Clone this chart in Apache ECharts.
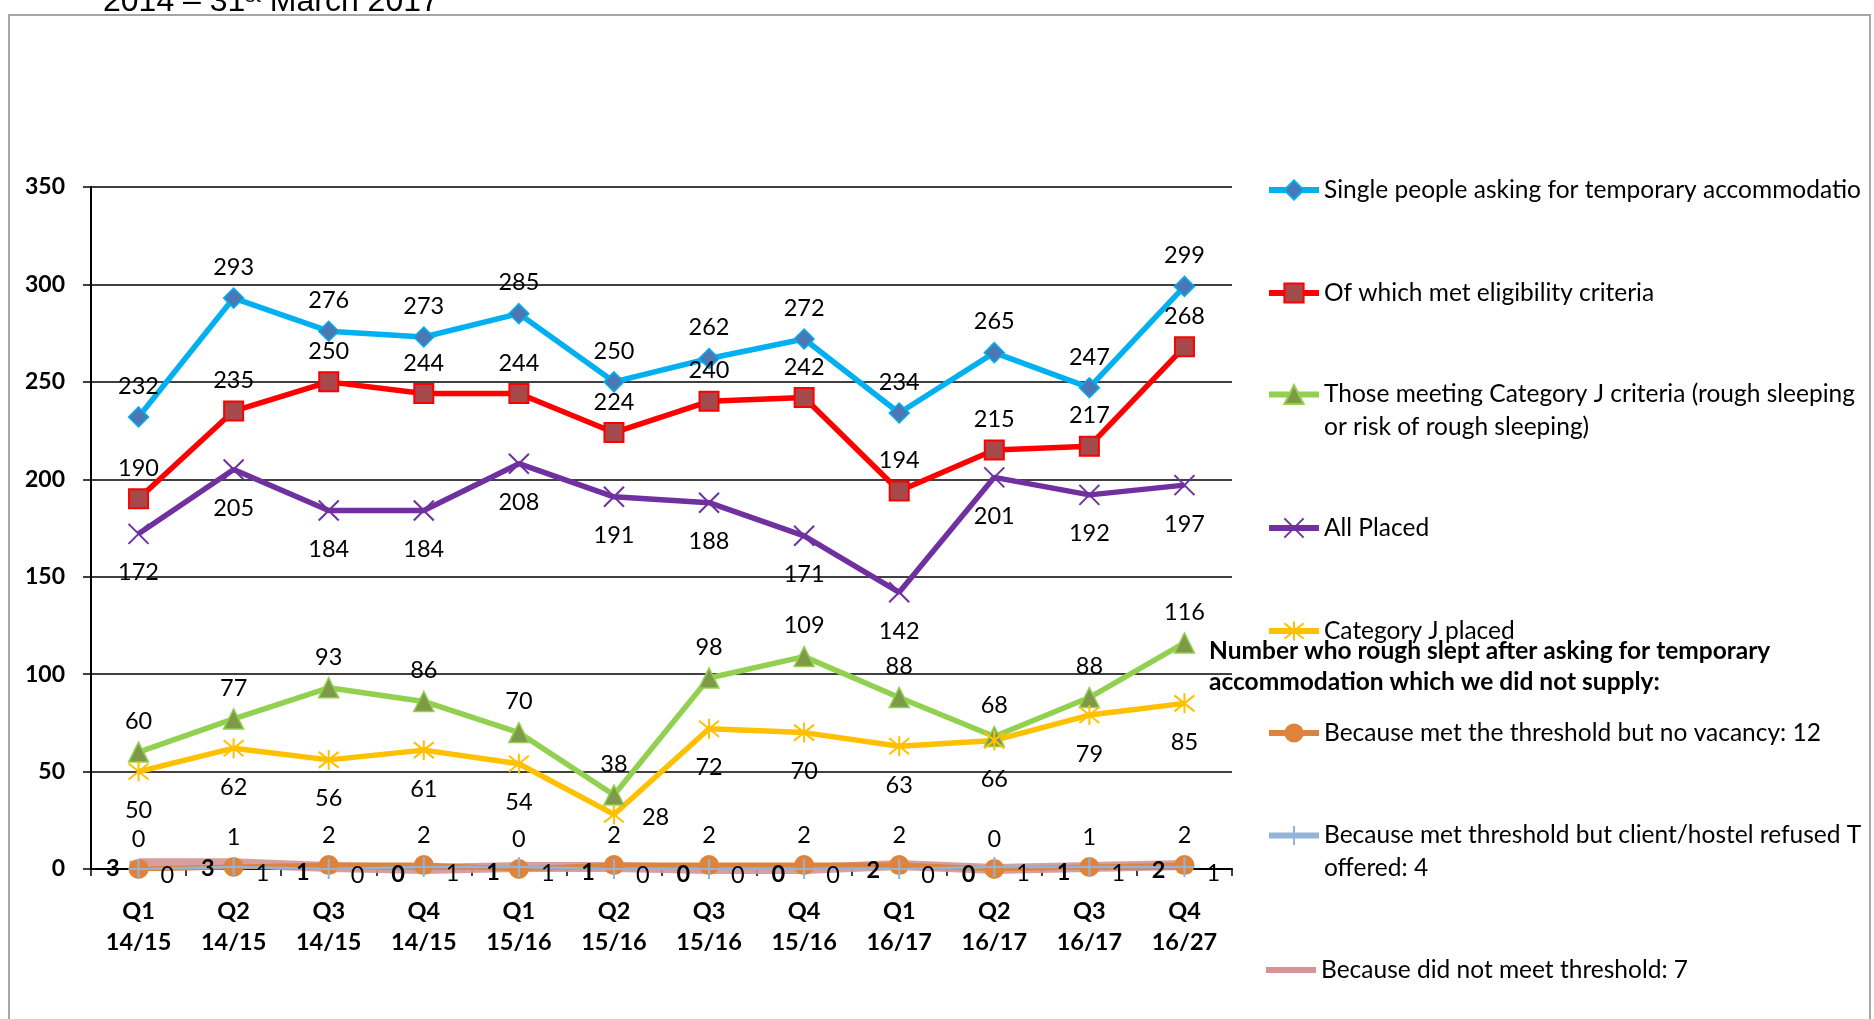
<!DOCTYPE html>
<html><head><meta charset="utf-8">
<script src="https://cdn.jsdelivr.net/npm/echarts@6/dist/echarts.min.js"></script>
<style>html,body{margin:0;padding:0;background:#fff}#c{width:1874px;height:1019px}</style>
</head><body><div id="c"></div>
<script>
const categories = ['Q1\n14/15','Q2\n14/15','Q3\n14/15','Q4\n14/15','Q1\n15/16','Q2\n15/16','Q3\n15/16','Q4\n15/16','Q1\n16/17','Q2\n16/17','Q3\n16/17','Q4\n16/27'];
const singlePeople = [232,293,276,273,285,250,262,272,234,265,247,299];
const metEligibility = [190,235,250,244,244,224,240,242,194,215,217,268];
const categoryJ = [60,77,93,86,70,38,98,109,88,68,88,116];
const allPlaced = [172,205,184,184,208,191,188,171,142,201,192,197];
const categoryJPlaced = [50,62,56,61,54,28,72,70,63,66,79,85];
const noVacancy = [0,1,2,2,0,2,2,2,2,0,1,2];
const clientRefused = [0,1,0,1,1,0,0,0,0,1,1,1];
const notMeetThreshold = [3,3,1,0,1,1,0,0,2,0,1,2];
const yMin = 0, yMax = 350, yStep = 50;

const names = {
  single: 'Single people asking for temporary accommodation',
  met: 'Of which met eligibility criteria',
  catJ: 'Those meeting Category J criteria (rough sleeping\nor risk of rough sleeping)',
  all: 'All Placed',
  catJP: 'Category J placed',
  noVac: 'Because met the threshold but no vacancy: 12',
  refused: 'Because met threshold but client/hostel refused TA\noffered: 4',
  notMeet: 'Because did not meet threshold: 7'
};
const headingText = 'Number who rough slept after asking for temporary\naccommodation which we did not supply:';
const titleText = '2014 \u2013 31';
const titleText2 = 'st';
const titleText3 = ' March 2017';

const FONT = 'Lato';
const lbl = (pos, dist, extra) => Object.assign({show:true, position:pos, distance:dist, color:'#000', fontFamily:FONT, fontSize:23.5}, extra||{});

const chart = echarts.init(document.getElementById('c'), null, {renderer:'canvas'});

function mkLegend(name, top, twoLine, icon) {
  return {
    data:[icon ? {name:name, icon:icon} : name], left:1266, top:top, orient:'vertical', padding:0,
    itemWidth:50, itemHeight:24, itemGap:0, selectedMode:false,
    lineStyle:{width:6},
    formatter: twoLine ? (n => ' \n' + n) : undefined,
    textStyle: {fontFamily:FONT, fontSize:24.5, color:'#000', lineHeight: twoLine?33:26,
      width:547, overflow:'truncate', ellipsis:''}
  };
}

const xPath = 'path://M0,0L20,20M20,0L0,20';
const starPath = 'path://M10,0L10,20M2,2L18,18M18,2L2,18';
const plusPath = 'path://M10,0L10,20M0,10L20,10';
const barIcon = 'path://M0,0L50,0L50,6L0,6Z';

const yellowData = categoryJPlaced.map((v,i)=> i===5 ? {value:v, label:{position:'right', distance:17, offset:[0,3]}} : v);

const option = {
  animation:false,
  backgroundColor:'#fff',
  grid:{left:91, right:642, top:187, bottom:150, containLabel:false},
  xAxis:{
    type:'category', data:categories, boundaryGap:true,
    axisLine:{show:true, lineStyle:{color:'#000', width:2}},
    axisTick:{show:true, length:7, lineStyle:{color:'#000', width:1.5}},
    axisLabel:{color:'#000', fontFamily:FONT, fontWeight:'bold', fontSize:23.5, lineHeight:31, margin:27, interval:0},
    splitLine:{show:false}
  },
  yAxis:{
    type:'value', min:yMin, max:yMax, interval:yStep,
    axisLine:{show:true, lineStyle:{color:'#000', width:2}},
    axisTick:{show:true, length:8, lineStyle:{color:'#000', width:1.5}},
    axisLabel:{color:'#000', fontFamily:FONT, fontWeight:'bold', fontSize:23, margin:26},
    splitLine:{show:true, lineStyle:{color:'#000', width:1.5}}
  },
  legend:[
    mkLegend(names.single, 177),
    mkLegend(names.met, 280),
    mkLegend(names.catJ, 345, true),
    mkLegend(names.all, 515),
    mkLegend(names.catJP, 618),
    mkLegend(names.noVac, 720),
    mkLegend(names.refused, 786, true),
    mkLegend(names.notMeet, 957, false, barIcon)
  ],
  graphic:[
    {type:'rect', z:-10, shape:{x:9, y:15, width:1861, height:1100}, style:{fill:'#fff', stroke:'#A6A6A6', lineWidth:2}},
    {type:'text', left:103, top:-14, style:{
      text:'{a|'+titleText+'}{b|'+titleText2+'}{a|'+titleText3+'}',
      rich:{a:{fontFamily:'Liberation Sans', fontSize:32, fill:'#000', verticalAlign:'bottom'}, b:{fontFamily:'Liberation Sans', fontSize:20, fill:'#000', verticalAlign:'top'}}
    }},
    {type:'text', left:1209, top:636, z:100, style:{text:headingText, fontFamily:FONT, fontWeight:'bold', fontSize:24.5, lineHeight:31, fill:'#000'}}
  ],
  series:[
    {name:names.single, type:'line', data:singlePeople, symbol:'diamond', symbolSize:20,
      lineStyle:{color:'#00B0F0', width:5.5}, itemStyle:{color:'#4A78B4', borderColor:'#00B0F0', borderWidth:1.5},
      label:lbl('top', 8)},
    {name:names.met, type:'line', data:metEligibility, symbol:'rect', symbolSize:19,
      lineStyle:{color:'#FF0000', width:5.5}, itemStyle:{color:'#A6494A', borderColor:'#FF0000', borderWidth:2},
      label:lbl('top', 8)},
    {name:names.catJ, type:'line', data:categoryJ, symbol:'triangle', symbolSize:20,
      lineStyle:{color:'#92D050', width:5.5}, itemStyle:{color:'#7E9A49', borderColor:'#92D050', borderWidth:1.5},
      label:lbl('top', 8)},
    {name:names.all, type:'line', data:allPlaced, symbol:xPath, symbolSize:20,
      lineStyle:{color:'#7030A0', width:5.5}, itemStyle:{color:'#7030A0', borderColor:'#7030A0', borderWidth:2},
      label:lbl('bottom', 16)},
    {name:names.catJP, type:'line', data:yellowData, symbol:starPath, symbolSize:20,
      lineStyle:{color:'#FFC000', width:5.5}, itemStyle:{color:'#FFC000', borderColor:'#FFC000', borderWidth:2},
      label:lbl('bottom', 16)},
    {name:names.notMeet, type:'line', data:notMeetThreshold, symbol:'rect', symbolSize:[18,5],
      lineStyle:{color:'#D49594', width:10, opacity:0.9}, itemStyle:{color:'#D49594', borderWidth:0},
      label:lbl('left', 10, {fontWeight:'bold', offset:[0,5]})},
    {name:names.noVac, type:'line', data:noVacancy, symbol:'circle', symbolSize:20,
      lineStyle:{color:'#E0833A', width:5}, itemStyle:{color:'#E0833A', borderColor:'#E0833A', borderWidth:0},
      label:lbl('top', 8)},
    {name:names.refused, type:'line', data:clientRefused, symbol:plusPath, symbolSize:20,
      lineStyle:{color:'#95B3D7', width:2.5}, itemStyle:{color:'#95B3D7', borderColor:'#95B3D7', borderWidth:2},
      label:lbl('right', 11, {offset:[0,6]})}
  ]
};
chart.setOption(option);
</script></body></html>
